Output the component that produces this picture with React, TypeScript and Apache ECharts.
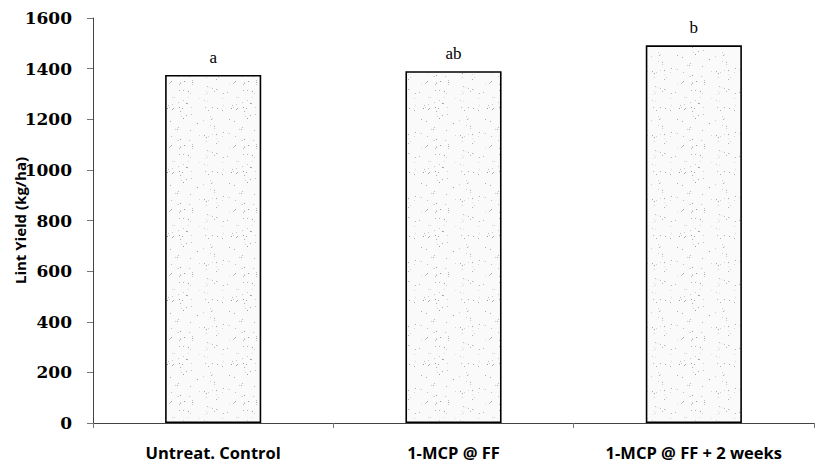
import React, { useEffect, useRef } from "react";
import * as echarts from "echarts";

const categories = ["Untreat. Control", "1-MCP @ FF", "1-MCP @ FF + 2 weeks"];
const yieldValues = [1375, 1390, 1492];
const letters = ["a", "ab", "b"];
const yTicks = { min: 0, max: 1600, interval: 200 };

function makePattern(): HTMLCanvasElement {
  const c = document.createElement("canvas");
  c.width = 64;
  c.height = 64;
  const ctx = c.getContext("2d")!;
  ctx.fillStyle = "#fafafa";
  ctx.fillRect(0, 0, 64, 64);
  let s = 12345;
  const next = () => {
    s = (s * 1103515245 + 12345) % 2147483648;
    return s / 2147483648;
  };
  for (let i = 0; i < 90; i++) {
    const x = Math.floor(next() * 64);
    const y = Math.floor(next() * 64);
    const g = Math.floor(150 + next() * 80);
    ctx.fillStyle = `rgb(${g},${g},${g})`;
    ctx.fillRect(x, y, 1, 1);
  }
  return c;
}

export default function App() {
  const ref = useRef<HTMLDivElement>(null);
  useEffect(() => {
    if (!ref.current) return;
    const chart = echarts.init(ref.current, undefined, { renderer: "svg" });
    const pattern = makePattern();
    chart.setOption({
      animation: false,
      backgroundColor: "#ffffff",
      grid: { left: 93, right: 1, top: 18, bottom: 45, containLabel: false, outerBoundsMode: "none" },
      xAxis: {
        type: "category",
        data: categories,
        axisLine: { lineStyle: { color: "#444", width: 1 } },
        axisTick: { show: true, alignWithLabel: false, length: 5, lineStyle: { color: "#777" } },
        axisLabel: {
          margin: 21,
          fontFamily: "'Open Sans', sans-serif",
          fontWeight: "bold",
          fontSize: 16.5,
          color: "#000",
        },
      },
      yAxis: {
        type: "value",
        min: yTicks.min,
        max: yTicks.max,
        interval: yTicks.interval,
        name: "Lint Yield (kg/ha)",
        nameLocation: "middle",
        nameGap: 66,
        nameMoveOverlap: false,
        nameRotate: 90,
        nameTextStyle: {
          fontFamily: "'Open Sans', sans-serif",
          fontWeight: "bold",
          fontSize: 15,
          color: "#000",
        },
        splitLine: { show: false },
        axisLine: { show: true, lineStyle: { color: "#444", width: 1 } },
        axisTick: { show: true, length: 6, lineStyle: { color: "#777" } },
        axisLabel: {
          margin: 21,
          formatter: (v: number) => String(v),
          fontFamily: "'DejaVu Serif', serif",
          fontWeight: "bold",
          fontSize: 17,
          color: "#000",
        },
      },
      series: [
        {
          type: "bar",
          data: yieldValues,
          barWidth: "40%",
          itemStyle: {
            color: { image: pattern, repeat: "repeat" },
            borderColor: "#000",
            borderWidth: 1.6,
          },
          label: {
            show: true,
            position: "top",
            distance: 9,
            formatter: (p: any) => letters[p.dataIndex],
            fontFamily: "'Liberation Serif', serif",
            fontSize: 17,
            color: "#000",
          },
        },
      ],
    });
    return () => chart.dispose();
  }, []);
  return <div ref={ref} style={{ width: 815, height: 468, position: "absolute", left: 0, top: 0 }} />;
}
